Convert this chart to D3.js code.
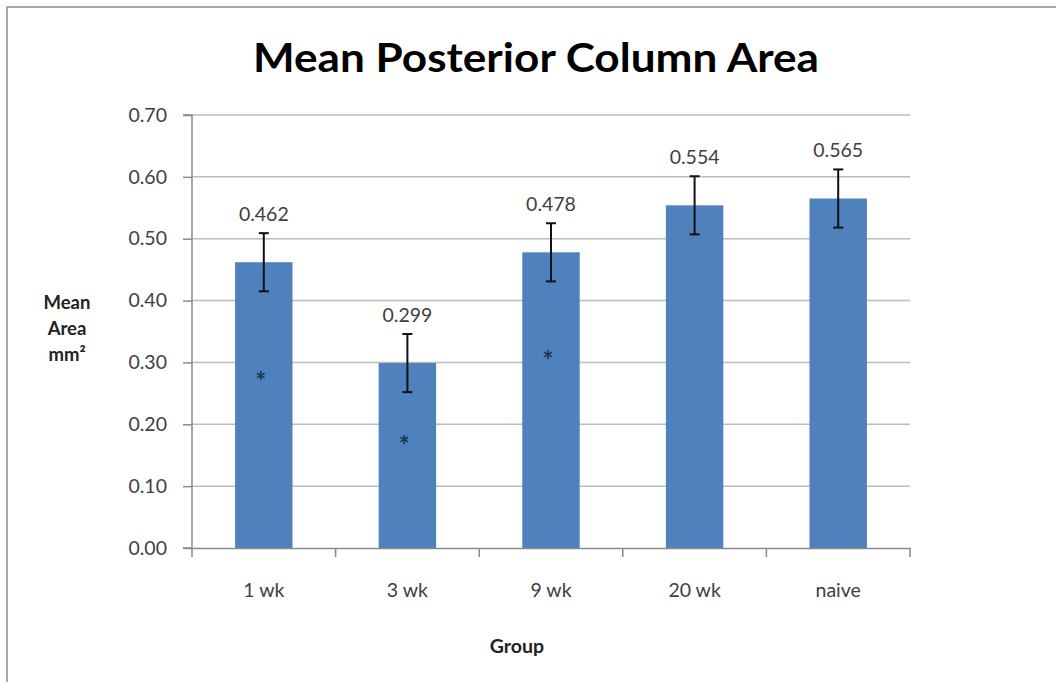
<!DOCTYPE html>
<html><head><meta charset="utf-8">
<script src="https://cdn.jsdelivr.net/npm/d3@7"></script>
<style>body{margin:0;background:#fff}svg{display:block}</style>
</head><body>
<svg id="c" width="1056" height="682"></svg>
<script>
const categories = ["1 wk", "3 wk", "9 wk", "20 wk", "naive"];
const means = [0.462, 0.299, 0.478, 0.554, 0.565];
const errors = [0.047, 0.047, 0.047, 0.047, 0.047];
const asterisks = [0.275, 0.171, 0.309, null, null];
const yTicks = [0, 0.1, 0.2, 0.3, 0.4, 0.5, 0.6, 0.7];
const titleText = "Mean Posterior Column Area";
const yLabelLines = ["Mean", "Area", "mm²"];
const xLabelText = "Group";

(function () {
const svg = d3.select("#c");
const font = "Lato, 'Open Sans', sans-serif";
const pLeft = 192, pRight = 910, pTop = 115, pBottom = 548;

// frame
svg.append("path").attr("d", "M7,682V7H1056").attr("fill", "none").attr("stroke", "#8a8a8a").attr("stroke-width", 1.5);

const x = d3.scaleBand().domain(categories).range([pLeft, pRight]).paddingInner(0.6).paddingOuter(0.3);
const y = d3.scaleLinear().domain([0, 0.7]).range([pBottom, pTop]);

// gridlines
svg.append("g").selectAll("line").data(yTicks.filter(d => d > 0)).join("line")
  .attr("x1", pLeft).attr("x2", pRight).attr("y1", d => y(d)).attr("y2", d => y(d))
  .attr("stroke", "#bcbcbc").attr("stroke-width", 1.5);

// bars
svg.append("g").selectAll("rect").data(means).join("rect")
  .attr("x", (d, i) => x(categories[i])).attr("width", x.bandwidth())
  .attr("y", d => y(d)).attr("height", d => y(0) - y(d)).attr("fill", "#4f81bd");

// y axis
const yAxis = d3.axisLeft(y).tickValues(yTicks).tickFormat(d3.format(".2f")).tickSize(9).tickPadding(16);
const gy = svg.append("g").attr("transform", `translate(${pLeft},0)`).call(yAxis);
gy.select(".domain").attr("stroke", "#8a8a8a").attr("stroke-width", 1.5).attr("d", `M-9,${pTop}H0V${pBottom}H-9`);
gy.selectAll(".tick line").attr("stroke", "#8a8a8a").attr("stroke-width", 1.5);
gy.selectAll(".tick text").attr("font-family", font).attr("font-size", 19.5).attr("fill", "#404040");

// x axis
const xAxis = d3.axisBottom(x).tickSize(0).tickPadding(35);
const gx = svg.append("g").attr("transform", `translate(0,${pBottom})`).call(xAxis);
gx.select(".domain").attr("stroke", "#8a8a8a").attr("stroke-width", 1.5);
gx.selectAll(".tick text").attr("font-family", font).attr("font-size", 19.5).attr("fill", "#404040");
// x category separators
const seps = d3.range(categories.length + 1).map(i => pLeft + i * x.step());
svg.append("g").selectAll("line").data(seps).join("line")
  .attr("x1", d => d).attr("x2", d => d).attr("y1", pBottom).attr("y2", pBottom + 9)
  .attr("stroke", "#8a8a8a").attr("stroke-width", 1.5);

// error bars
const eb = svg.append("g").attr("stroke", "#111").attr("stroke-width", 2);
means.forEach((m, i) => {
  const cx = x(categories[i]) + x.bandwidth() / 2;
  const y1 = y(m + errors[i]), y2 = y(m - errors[i]);
  eb.append("line").attr("x1", cx).attr("x2", cx).attr("y1", y1).attr("y2", y2);
  eb.append("line").attr("x1", cx - 5).attr("x2", cx + 5).attr("y1", y1).attr("y2", y1);
  eb.append("line").attr("x1", cx - 5).attr("x2", cx + 5).attr("y1", y2).attr("y2", y2);
});

// data labels
svg.append("g").selectAll("text").data(means).join("text")
  .attr("x", (d, i) => x(categories[i]) + x.bandwidth() / 2)
  .attr("y", (d, i) => y(d + errors[i]) - 12)
  .attr("text-anchor", "middle").attr("font-family", font).attr("font-size", 19.5).attr("fill", "#404040")
  .text(d => d3.format(".3f")(d));

// asterisks
svg.append("g").selectAll("text").data(asterisks.map((v, i) => ({v, i})).filter(d => d.v !== null)).join("text")
  .attr("x", d => x(categories[d.i]) + x.bandwidth() / 2 - 3)
  .attr("y", d => y(d.v) + 13)
  .attr("text-anchor", "middle").attr("font-family", font).attr("font-weight", "bold")
  .attr("font-size", 26).attr("fill", "#1b3658")
  .text("*");

// title
svg.append("text").attr("x", 536).attr("y", 72).attr("text-anchor", "middle")
  .attr("font-family", font).attr("font-weight", "bold").attr("font-size", 40).attr("fill", "#000")
  .attr("textLength", 566).attr("lengthAdjust", "spacingAndGlyphs")
  .text(titleText);

// y label
svg.append("text").attr("x", 67).attr("y", 309).attr("text-anchor", "middle")
  .attr("font-family", font).attr("font-weight", "bold").attr("font-size", 18.5).attr("fill", "#222")
  .selectAll("tspan").data(yLabelLines).join("tspan")
  .attr("x", 67).attr("dy", (d, i) => i === 0 ? 0 : 26).text(d => d);

// x label
svg.append("text").attr("x", 517).attr("y", 653).attr("text-anchor", "middle")
  .attr("font-family", font).attr("font-weight", "bold").attr("font-size", 19.5).attr("fill", "#222")
  .text(xLabelText);
})();
</script>
</body></html>
